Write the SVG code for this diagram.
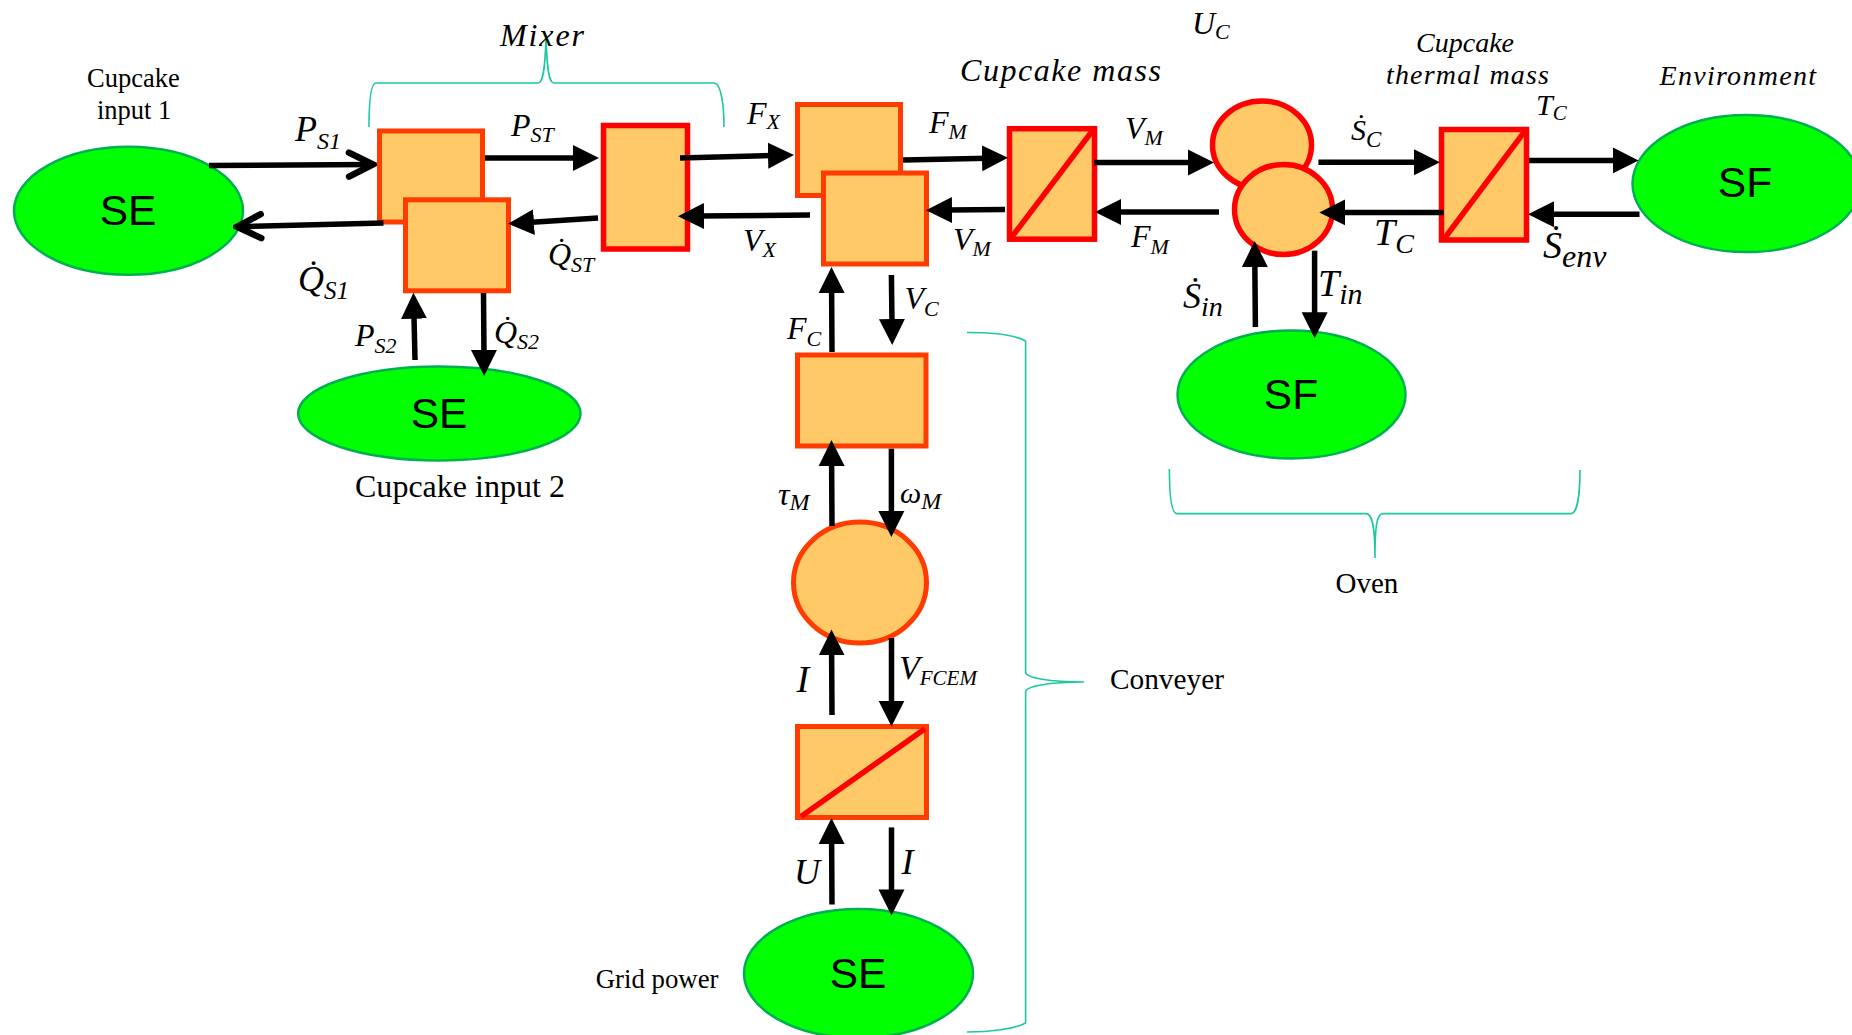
<svg xmlns="http://www.w3.org/2000/svg" width="1852" height="1035" viewBox="0 0 1852 1035">
<style>
.b{fill:#FEC966;stroke:#FF3C00;stroke-width:5}
.r{fill:#FEC966;stroke:#FF0000;stroke-width:5.5}
.d{stroke:#FF0000;stroke-width:5.5;fill:none}
.g{fill:#00FF00;stroke:#00B050;stroke-width:2.5}
.w{font:42.5px "Liberation Sans",Arial,sans-serif;fill:#000;text-anchor:middle}
.t{font-family:"Liberation Serif","Times New Roman",serif;fill:#000}
.m{font-family:"Liberation Serif","Times New Roman",serif;font-style:italic;fill:#000}
.c path{fill:none;stroke:#000;stroke-width:5.5}
.c path.f{marker-end:url(#fa)}
.c path.o{marker-end:url(#oa)}
.br{fill:none;stroke:#1BC8A0;stroke-width:1.6}
</style>
<defs>
<marker id="fa" markerUnits="userSpaceOnUse" markerWidth="28" markerHeight="28" viewBox="0 0 28 28" refX="6" refY="14" orient="auto"><path d="M0 1L26 14L0 27Z" fill="#000"/></marker>
<marker id="oa" markerUnits="userSpaceOnUse" markerWidth="34" markerHeight="34" viewBox="-30 -17 34 34" refX="0" refY="0" orient="auto"><path d="M-24 -12L0 0L-24 12" fill="none" stroke="#000" stroke-width="6.5" stroke-linecap="round"/></marker>
</defs>

<g id="braces">
<path class="br" d="M369 127C369 105 370 83 376 83L538 83C543 83 545 70 546 38C547 70 549 83 554 83L714 83C721 83 724 105 724 127"/>
<path class="br" d="M967 332.5C990 332.5 1015 335 1025.6 341L1025.6 672C1025.6 678 1050 682 1084 682C1050 682 1025.6 686 1025.6 692L1025.6 1023C1015 1029 990 1032 967 1032"/>
<path class="br" d="M1169.4 469C1169.4 495 1171 513.6 1177 513.6L1366 513.6C1372 513.6 1375 525 1375 558C1375 525 1377 513.6 1383 513.6L1571 513.6C1577 513.6 1580 495 1580 470"/>
</g>

<g id="node-se1"><ellipse class="g" cx="128.5" cy="210.8" rx="114.5" ry="64"/><text class="w" x="128" y="225">SE</text></g>
<g id="node-se2"><ellipse class="g" cx="439.3" cy="413.5" rx="141.2" ry="47"/><text class="w" x="439" y="428">SE</text></g>
<g id="node-se3"><ellipse class="g" cx="858.5" cy="973.5" rx="114.5" ry="64.5"/><text class="w" x="858" y="988">SE</text></g>
<g id="node-sf-oven"><ellipse class="g" cx="1291.5" cy="394.5" rx="114" ry="64"/><text class="w" x="1291" y="408.5">SF</text></g>
<g id="node-sf-env"><ellipse class="g" cx="1746.5" cy="183.6" rx="114" ry="68.5"/><text class="w" x="1745" y="197">SF</text></g>

<g id="node-mixer1"><rect class="b" x="379.5" y="131" width="103" height="91"/></g>
<g id="node-mixer2"><rect class="b" x="405.5" y="199.8" width="103" height="91"/></g>
<g id="node-storage"><rect class="r" x="603.5" y="125.5" width="84" height="123.5"/></g>
<g id="node-fx"><rect class="b" x="797.5" y="104.5" width="103" height="91"/></g>
<g id="node-vx"><rect class="b" x="823.5" y="173" width="103" height="91"/></g>
<g id="node-cupcake-mass"><rect class="r" x="1009.5" y="128.7" width="85" height="110.5"/><path class="d" d="M1012 236.7L1093 130"/></g>
<g id="node-fc"><rect class="b" x="797.5" y="355" width="128.5" height="91"/></g>
<g id="node-motor"><ellipse class="b" cx="860" cy="582.6" rx="66.5" ry="60.5"/></g>
<g id="node-tf3"><rect class="b" x="797.5" y="726.5" width="129" height="91"/><path class="d" d="M801 816.4L925 728.8"/></g>
<g id="node-u1"><ellipse class="r" cx="1262" cy="145" rx="49.5" ry="44"/></g>
<g id="node-u2"><ellipse class="r" cx="1283.5" cy="209.5" rx="49" ry="45"/></g>
<g id="node-thermal-mass"><rect class="r" x="1441.5" y="129.5" width="85" height="110.5"/><path class="d" d="M1444 239L1525 131"/></g>

<g id="connectors" class="c">
<path class="o" d="M209 165.5L373 164.5"/>
<path class="f" d="M485 158L579 158"/>
<path class="o" d="M383.5 223L237 226.8"/>
<path class="f" d="M598 218L528 222.5"/>
<path class="f" d="M415 360L413.9 312.7"/>
<path class="f" d="M483.5 293L484 356"/>
<path class="f" d="M680 158L774 155.5"/>
<path class="f" d="M903 160L988 158.2"/>
<path class="f" d="M1094 162.5L1194 162.5"/>
<path class="f" d="M1219 212L1115 212"/>
<path class="f" d="M1005 209.5L946 210"/>
<path class="f" d="M810 215L698 216"/>
<path class="f" d="M832 352L831.6 287"/>
<path class="f" d="M891.4 275L892 325"/>
<path class="f" d="M832 526L831.6 460"/>
<path class="f" d="M891.4 448.7L891.4 517"/>
<path class="f" d="M832 715L831.6 649.4"/>
<path class="f" d="M891.5 638L891.5 706.6"/>
<path class="f" d="M832 904.4L831.6 838"/>
<path class="f" d="M891.5 827.4L891.5 895.4"/>
<path class="f" d="M1318.4 162.3L1420 162.3"/>
<path class="f" d="M1529 160.4L1618.6 160.4"/>
<path class="f" d="M1443.6 212.4L1339.3 212.4"/>
<path class="f" d="M1639.5 214.3L1548 214.3"/>
<path class="f" d="M1255.4 327L1254.8 261"/>
<path class="f" d="M1314.6 250.7L1314.6 318.3"/>
</g>

<g id="labels">
<text class="t" font-size="26.5" x="87" y="87">Cupcake</text>
<text class="t" font-size="26.5" x="97" y="119">input 1</text>
<text class="t" font-size="32" x="355" y="497" textLength="210">Cupcake input 2</text>
<text class="t" font-size="29" x="1335.5" y="592.5">Oven</text>
<text class="t" font-size="29.3" x="1110" y="689">Conveyer</text>
<text class="t" font-size="26.8" x="595.7" y="988">Grid power</text>
<text class="m" font-size="32" x="500" y="45.5" textLength="84">Mixer</text>
<text class="m" font-size="32" x="960" y="81" textLength="201">Cupcake mass</text>
<text class="m" font-size="28" x="1416" y="52" textLength="98">Cupcake</text>
<text class="m" font-size="28" x="1386" y="84" textLength="163">thermal mass</text>
<text class="m" font-size="28" x="1659.5" y="85" textLength="156.5">Environment</text>

<text class="m" font-size="36" x="295" y="141">P<tspan font-size="24" dy="8">S1</tspan></text>
<text class="m" font-size="32" x="511" y="136">P<tspan font-size="22" dy="6">ST</tspan></text>
<text class="m" font-size="36" x="298" y="291">Q̇<tspan font-size="25" dy="8">S1</tspan></text>
<text class="m" font-size="32" x="548" y="265">Q̇<tspan font-size="22" dy="7">ST</tspan></text>
<text class="m" font-size="32" x="355" y="345.7">P<tspan font-size="22" dy="7">S2</tspan></text>
<text class="m" font-size="32" x="494" y="343">Q̇<tspan font-size="22" dy="6">S2</tspan></text>
<text class="m" font-size="32" x="747" y="124">F<tspan font-size="22" dy="5">X</tspan></text>
<text class="m" font-size="32" x="929" y="133">F<tspan font-size="22" dy="6">M</tspan></text>
<text class="m" font-size="32" x="1125" y="139">V<tspan font-size="22" dy="6">M</tspan></text>
<text class="m" font-size="32" x="743" y="250.7">V<tspan font-size="22" dy="6">X</tspan></text>
<text class="m" font-size="32" x="953" y="250">V<tspan font-size="22" dy="6">M</tspan></text>
<text class="m" font-size="32" x="1131" y="247">F<tspan font-size="22" dy="7">M</tspan></text>
<text class="m" font-size="32" x="904.5" y="309">V<tspan font-size="22" dy="7">C</tspan></text>
<text class="m" font-size="32" x="787" y="339">F<tspan font-size="22" dy="7">C</tspan></text>
<text class="m" font-size="36" x="1183" y="308">Ṡ<tspan font-size="28" dy="8">in</tspan></text>
<text class="m" font-size="32" x="1192" y="33.7">U<tspan font-size="22" dy="5.5">C</tspan></text>
<text class="m" font-size="30" x="1536" y="114.8">T<tspan font-size="21" dy="5.5">C</tspan></text>
<text class="m" font-size="30" x="1351" y="140">Ṡ<tspan font-size="23" dy="7">C</tspan></text>
<text class="m" font-size="38" x="1374" y="245">T<tspan font-size="28" dy="8">C</tspan></text>
<text class="m" font-size="38" x="1543" y="258"><tspan>Ṡ</tspan><tspan font-size="32" dy="8.7">env</tspan></text>
<text class="m" font-size="38" x="1318" y="295.5">T<tspan font-size="30" dy="8.5">in</tspan></text>
<text class="m" font-size="32" x="778" y="504.7">τ<tspan font-size="24" dy="5.5">M</tspan></text>
<text class="m" font-size="30" x="900" y="503">ω<tspan font-size="24" dy="5.8">M</tspan></text>
<text class="m" font-size="38" x="796.5" y="691.8">I</text>
<text class="m" font-size="34" x="899" y="679">V<tspan font-size="21" dy="5.8">FCEM</tspan></text>
<text class="m" font-size="36" x="794" y="883.5">U</text>
<text class="m" font-size="36" x="901.5" y="874.4">I</text>
</g>
</svg>
